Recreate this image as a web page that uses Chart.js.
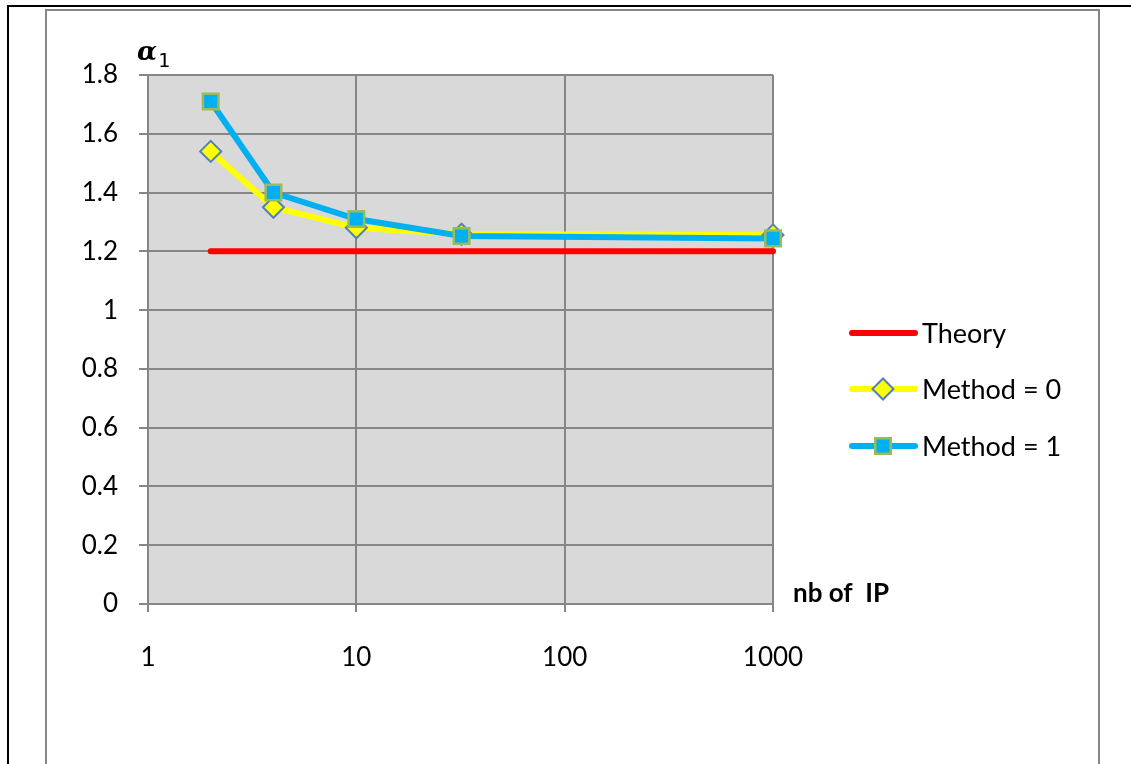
<!DOCTYPE html>
<html>
<head>
<meta charset="utf-8">
<script src="https://cdn.jsdelivr.net/npm/chart.js@4.4.0/dist/chart.umd.min.js"></script>
<style>
html, body { margin: 0; padding: 0; background: #fff; }
canvas { display: block; }
</style>
</head>
<body>
<canvas id="chart" width="1131" height="764"></canvas>
<script>
// data
var nbIP = [2, 4, 10, 32, 1000];
var theory = [1.2, 1.2, 1.2, 1.2, 1.2];
var method0 = [1.54, 1.35, 1.28, 1.258, 1.256];
var method1 = [1.71, 1.40, 1.31, 1.252, 1.244];
var xTicks = [1, 10, 100, 1000];
var yTicks = [0, 0.2, 0.4, 0.6, 0.8, 1, 1.2, 1.4, 1.6, 1.8];
var seriesNames = ['Theory', 'Method = 0', 'Method = 1'];

var FONT = 'Lato, "Open Sans", sans-serif';

function toPoints(ys) {
    return nbIP.map(function(x, i) { return { x: x, y: ys[i] }; });
}

var frame = {
    id: 'frame',
    beforeDraw: function(chart) {
        var ctx = chart.ctx, a = chart.chartArea;
        ctx.save();
        ctx.fillStyle = '#fff';
        ctx.fillRect(0, 0, chart.width, chart.height);
        ctx.lineWidth = 2;
        ctx.strokeStyle = '#000';
        ctx.beginPath();
        ctx.moveTo(8, chart.height); ctx.lineTo(8, 6); ctx.lineTo(chart.width, 6);
        ctx.stroke();
        ctx.strokeStyle = '#868686';
        ctx.beginPath();
        ctx.moveTo(46, chart.height); ctx.lineTo(46, 10); ctx.lineTo(1099, 10); ctx.lineTo(1099, chart.height);
        ctx.stroke();
        // plot area
        ctx.fillStyle = '#d9d9d9';
        ctx.fillRect(a.left, a.top, a.right - a.left, a.bottom - a.top);
        ctx.restore();
    }
};

var extras = {
    id: 'extras',
    afterDraw: function(chart) {
        var ctx = chart.ctx, a = chart.chartArea;
        ctx.save();
        // axis titles
        ctx.fillStyle = '#000';
        ctx.textBaseline = 'alphabetic';
        ctx.textAlign = 'left';
        ctx.font = 'italic bold 26px "DejaVu Serif"';
        ctx.fillText('\u03b1', a.left - 11, 60);
        ctx.font = '20px "DejaVu Sans Mono"';
        ctx.fillText('1', a.left + 10, 67);
        ctx.font = 'bold 26px ' + FONT;
        ctx.textBaseline = 'middle';
        ctx.fillText('nb of  IP', a.right + 20, a.bottom - 10);

        // legend
        var rows = [333, 389, 446];
        chart.data.datasets.forEach(function(ds, i) {
            var y = rows[i];
            ctx.strokeStyle = ds.borderColor;
            ctx.lineWidth = ds.borderWidth;
            ctx.lineCap = 'round';
            ctx.beginPath();
            ctx.moveTo(852, y); ctx.lineTo(915, y);
            ctx.stroke();
            if (ds.pointRadius > 0) {
                ctx.fillStyle = ds.pointBackgroundColor;
                ctx.strokeStyle = ds.pointBorderColor;
                ctx.lineWidth = ds.pointBorderWidth;
                Chart.helpers.drawPoint(ctx, {
                    pointStyle: ds.pointStyle, radius: ds.pointRadius,
                    rotation: 0, borderWidth: ds.pointBorderWidth
                }, 883, y);
            }
            ctx.fillStyle = '#000';
            ctx.font = '27px ' + FONT;
            ctx.textBaseline = 'middle';
            ctx.fillText(seriesNames[i], 922, y + 1);
        });
        ctx.restore();
    }
};

new Chart(document.getElementById('chart'), {
    type: 'line',
    data: {
        datasets: [
            {
                label: seriesNames[0], data: toPoints(theory), order: 3,
                borderColor: '#ff0000', borderWidth: 6, borderCapStyle: 'round',
                pointRadius: 0, clip: false
            },
            {
                label: seriesNames[1], data: toPoints(method0), order: 2,
                borderColor: '#ffff00', borderWidth: 6,
                pointStyle: 'rectRot', pointRadius: 10.5, pointBorderWidth: 2,
                pointBackgroundColor: '#ffff00', pointBorderColor: '#4f81bd', clip: false
            },
            {
                label: seriesNames[2], data: toPoints(method1), order: 1,
                borderColor: '#00b0f0', borderWidth: 6,
                pointStyle: 'rect', pointRadius: 11, pointBorderWidth: 2.5,
                pointBackgroundColor: '#00b0f0', pointBorderColor: '#9bbb59', clip: false
            }
        ]
    },
    options: {
        responsive: false,
        devicePixelRatio: 1,
        animation: false,
        layout: { padding: { top: 75, right: 358, left: 0, bottom: 0 } },
        plugins: { legend: { display: false }, tooltip: { enabled: false } },
        scales: {
            x: {
                type: 'logarithmic', min: 1, max: 1000,
                afterBuildTicks: function(s) { s.ticks = xTicks.map(function(v) { return { value: v }; }); },
                afterFit: function(s) { s.height = 160; },
                grid: { color: '#868686', lineWidth: 2, tickLength: 8 },
                border: { color: '#868686', width: 2 },
                ticks: {
                    color: '#000', font: { family: FONT, size: 26 }, padding: 30,
                    maxRotation: 0, autoSkip: false,
                    callback: function(v) { return String(v); }
                }
            },
            y: {
                min: 0, max: 1.8,
                afterBuildTicks: function(s) { s.ticks = yTicks.map(function(v) { return { value: v }; }); },
                afterFit: function(s) { s.width = 148; },
                grid: { color: '#868686', lineWidth: 2, tickLength: 9 },
                border: { color: '#868686', width: 2 },
                ticks: {
                    color: '#000', font: { family: FONT, size: 26 }, padding: 21,
                    callback: function(v) { return String(+v.toFixed(1)); }
                }
            }
        }
    },
    plugins: [frame, extras]
});
</script>
</body>
</html>
